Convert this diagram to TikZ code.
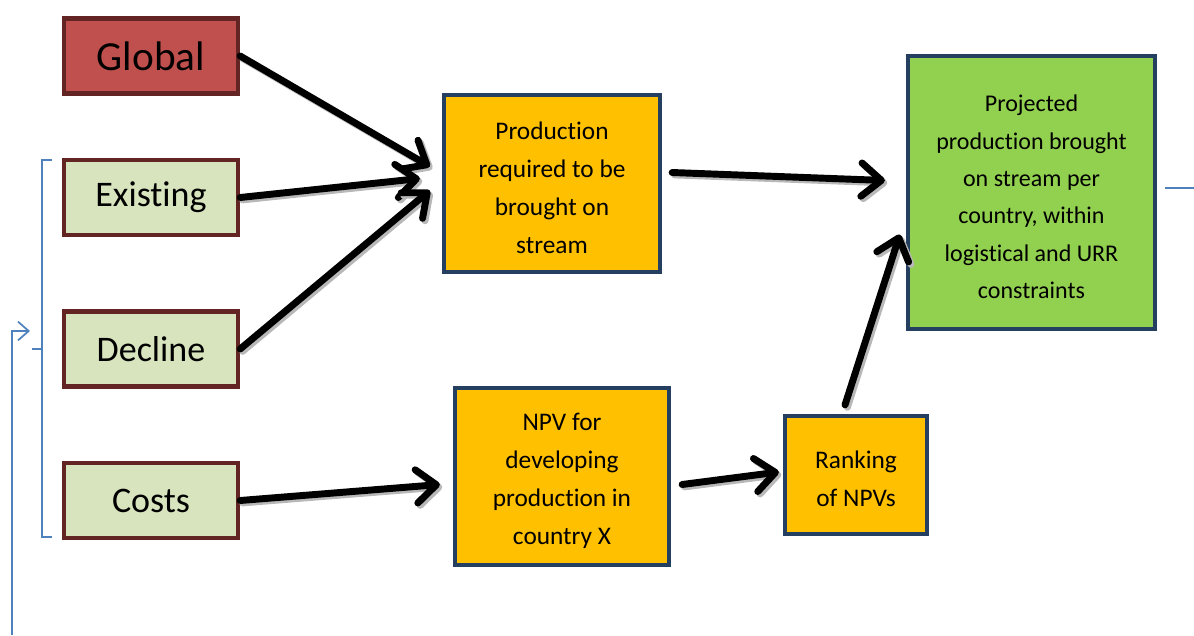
\documentclass[tikz,border=0pt]{standalone}
\usepackage{fontspec}
\setmainfont[Ligatures=NoCommon]{Carlito}
\usetikzlibrary{arrows.meta}
\definecolor{globalfill}{HTML}{C0504D}
\definecolor{inputfill}{HTML}{D7E4BD}
\definecolor{inborder}{HTML}{632523}
\definecolor{procfill}{HTML}{FFC000}
\definecolor{procborder}{HTML}{243F60}
\definecolor{resultfill}{HTML}{92D050}
\definecolor{linkblue}{HTML}{4F81BD}
\begin{document}
\begin{tikzpicture}[x=0.75pt,y=-0.75pt]
	% one unit is one pixel of the reference, y runs down
	\def\px{0.75pt}
	\def\bw{3.2pt}
	% node style definition
	\tikzstyle{input} = [draw=inborder, line width=\bw, fill=inputfill, rectangle, minimum width=174*\px, minimum height=75*\px, inner sep=0pt, font=\fontsize{27}{32}\selectfont];
	\tikzstyle{process} = [draw=procborder, line width=\bw, fill=procfill, rectangle, inner sep=0pt, align=center, font=\fontsize{19}{28.5}\selectfont];
	\tikzstyle{arr} = [line width=5.2pt, line cap=round, -{Straight Barb[length=15pt,width=25pt,round]}];
	\tikzstyle{arrshadow} = [arr, draw=black!28, transform canvas={shift={(1.8pt,-1.8pt)}}];
	\tikzstyle{link} = [draw=linkblue, line width=1.3pt];
	% arrow with its grey shadow
	\def\shadowarrow#1#2{\draw[arrshadow] #1 -- #2; \draw[arr] #1 -- #2;}
	% strut that pushes the first line down a little
	\def\lift{\rule{0pt}{19pt}}
	\useasboundingbox (0,0) rectangle (1194,635);
	% inputs
	\node[input, fill=globalfill, font=\fontsize{31}{36}\selectfont] (global) at (151,56) { Global };
	\node[input] (existing) at (151,197.5) { Existing };
	\node[input] (decline) at (151,349) { Decline };
	\node[input] (costs) at (151,500.5) { Costs };
	% processing steps
	\node[process, minimum width=216*\px, minimum height=177*\px] (required) at (552,183.5) { \lift Production\\required to be\\brought on\\stream };
	\node[process, minimum width=214*\px, minimum height=177*\px] (npv) at (562,476.5) { \lift NPV for\\developing\\production in\\country X };
	\node[process, minimum width=142*\px, minimum height=118*\px] (ranking) at (856,475) { \lift Ranking\\of NPVs };
	\node[process, fill=resultfill, minimum width=247*\px, minimum height=273*\px, font=\fontsize{18}{28}\selectfont] (projected) at (1031.5,192.5) { \lift Projected\\production brought\\on stream per\\country, within\\logistical and URR\\constraints };
	% arrows
	\shadowarrow{(global.east)}{([shift={(-12,-17)}]required.west)}
	\shadowarrow{(existing.east)}{([shift={(-22,-5)}]required.west)}
	\shadowarrow{(decline.east)}{([shift={(-12,7)}]required.west)}
	\shadowarrow{([shift={(10,-11)}]required.east)}{([shift={(-21,-12)}]projected.west)}
	\shadowarrow{(costs.east)}{([shift={(-13,8)}]npv.west)}
	\shadowarrow{([shift={(11,8)}]npv.east)}{([shift={(-4,-3)}]ranking.west)}
	\shadowarrow{([shift={(-11,-9)}]ranking.north)}{([shift={(-6,42)}]projected.west)}
	% bracket and feedback
	\coordinate (brtop) at (52,160);
	\coordinate (brmid) at (32,349);
	\coordinate (fbstart) at (12,635);
	\coordinate (fbend) at (30,331);
	\draw[link] (brtop) -- ++(-10,0) -- ++(0,377) -- ++(10,0);
	\draw[link] (brmid) -- ++(10,0);
	\draw[link, -{Straight Barb[length=8pt,width=14pt]}] (fbstart) |- (fbend);
	\draw[link] ([shift={(8,-4.5)}]projected.east) -- ++(29,0);
\end{tikzpicture}
\end{document}
